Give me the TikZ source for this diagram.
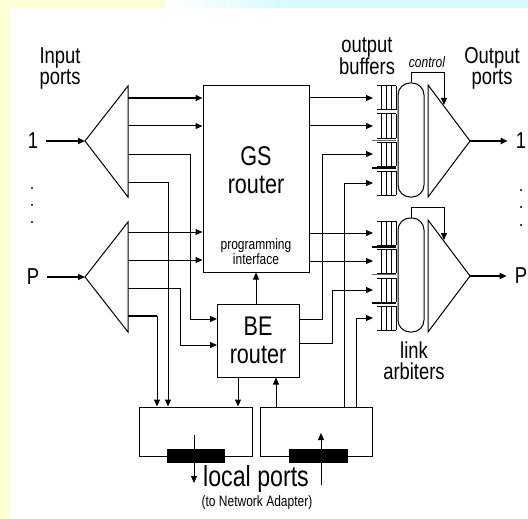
\documentclass[tikz,border=0pt]{standalone}
\usepackage{fontspec}
\setmainfont{Liberation Sans}[FakeStretch=0.8]
\usetikzlibrary{arrows.meta,positioning}
\definecolor{bgyellow}{HTML}{FFFFD6}
\definecolor{bgcyan}{HTML}{D4FAFF}

\begin{document}
\begin{tikzpicture}[x=1pt,y=-1pt,
    box/.style={draw,rectangle,line width=1pt,inner sep=0pt},
    bar/.style={fill=black,rectangle,inner sep=0pt},
    wire/.style={line width=1pt},
    bus/.style={line width=2pt},
    arr/.style={-{Triangle[length=7pt,width=6pt]},line width=1pt},
    lbl/.style={align=center,inner sep=0pt,font=\fontsize{23}{21}\selectfont},
    big/.style={align=center,inner sep=0pt,font=\fontsize{27}{28}\selectfont},
    small/.style={align=center,inner sep=0pt,font=\fontsize{14}{13}\selectfont},
    line join=miter,
  ]
    \useasboundingbox (0,0) rectangle (528,519);
    % background bands
    \fill[bgyellow] (0,0) rectangle (10,519);
    \fill[bgyellow] (0,0) rectangle (165,8);
    \shade[left color=white,right color=bgcyan] (170,0) rectangle (290,8);
    \fill[bgcyan] (290,0) rectangle (528,8);

    % labels
    \node[lbl] (inlbl)  at (60,68)  {Input\\ports};
    \node[lbl] (bufl)   at (367,56) {output\\buffers};
    \node[small,font=\fontsize{15}{14}\selectfont\itshape] (ctl) at (427,62) {control};
    \node[lbl] (outlbl) at (492,68) {Output\\ports};
    \node[lbl] (arblbl) at (414,361) {link\\arbiters};
    \node[lbl] (n1) at (33,141) {1};
    \node[lbl] (nP) at (33,277) {P};
    \node[lbl] (m1) at (521,141) {1};
    \node[lbl] (mP) at (521,276) {P};
    \foreach \y in {188,205,222} \fill (32,\y) circle (1.2);
    \foreach \y in {190,207,225} \fill (521,\y) circle (1.2);

    % routers
    \node[box,big,minimum width=106pt,minimum height=186pt,
          text depth=17pt] (GS) at (256,179) {GS\\router};
    \node[small,font=\fontsize{15}{13}\selectfont] (prog) at (256,252) {programming\\interface};
    \node[box,big,minimum width=82pt,minimum height=73pt] (BE) at (258,340.5) {BE\\router};

    % local ports
    \node[box,minimum width=113pt,minimum height=49pt] (locL) at (195.5,431.5) {};
    \node[box,minimum width=112pt,minimum height=49pt] (locR) at (316,431.5) {};
    \node[bar,minimum width=58pt,minimum height=14pt] (barL) at (196,456) {};
    \node[bar,minimum width=59pt,minimum height=14pt] (barR) at (318.5,456) {};
    \node[big,font=\fontsize{29}{26}\selectfont] (loclbl) at (256,479) {local ports};
    \node[small,font=\fontsize{15}{14}\selectfont] (nalbl) at (257,503) {(to Network Adapter)};
    \draw[arr] (194,435) -- (194,483);
    \draw[arr] (321,485) -- (321,433);

    % input switches
    \coordinate (inA) at (85,141);
    \coordinate (inP) at (85,277);
    \draw[wire] (inA) -- (128,86) -- (128,197) -- cycle;
    \draw[wire] (inP) -- (128,222) -- (128,332) -- cycle;
    \draw[arr,line width=2pt,shorten <=8pt] (n1.east) -- (inA);
    \draw[arr,line width=1.4pt,shorten <=8pt] (nP.east) -- (inP);
    \foreach \y [count=\i] in {98,126,154,182} \coordinate (a\i) at (128,\y);
    \foreach \y [count=\i] in {232,260,288,316} \coordinate (p\i) at (128,\y);

    % output switches
    \coordinate (outA) at (470,141);
    \coordinate (outP) at (470,276);
    \draw[wire] (outA) -- (428,85) -- (428,197) -- cycle;
    \draw[wire] (outP) -- (428,220) -- (428,332) -- cycle;
    \draw[arr,line width=2pt,shorten >=8pt] (outA) -- (m1.west);
    \draw[arr,line width=2pt,shorten >=8pt] (outP) -- (mP.west);

    % link arbiters
    \node[box,rounded corners=12pt,minimum width=26pt,minimum height=114pt] (arbA) at (411,140) {};
    \node[box,rounded corners=12pt,minimum width=26pt,minimum height=114pt] (arbP) at (411,275) {};
    \coordinate (ctlA) at (444,105);
    \coordinate (ctlP) at (444,240);
    \draw[arr] (arbA.north) -- ++(0,-10) -| (ctlA);
    \draw[arr] (arbP.north) -- ++(0,-10) -| (ctlP);

    % output buffers
    \foreach \y in {98,126,154,183,233,261,290,318}{
      \draw[wire] (377,\y-12) -- (396,\y-12) (377,\y+12) -- (396,\y+12);
      \foreach \x in {381,386,391,396} \draw[line width=0.8pt] (\x,\y-12) -- (\x,\y+12);
      \coordinate (q\y) at (373,\y);
    }
    \draw[line width=1.8pt] (372,168) -- (396,168) (372,247) -- (396,247) (372,303) -- (396,303);
    \draw[line width=1pt,black!60] (372,140) -- (396,140) (372,274) -- (396,274);

    % inputs to routers
    \coordinate (be1) at (217,319);
    \coordinate (be2) at (217,345);
    \draw[arr,bus] (a1) -- (a1 -| GS.west);
    \draw[arr] (a2) -- (a2 -| GS.west);
    \draw[arr] (a3) -| (190,319) -- (be1);
    \draw[arr] (a4) -| (locL.north -| 168,0);
    \draw[arr] (p1) -- (p1 -| GS.west);
    \draw[arr] (p2) -- (p2 -| GS.west);
    \draw[arr] (p3) -| (180,345) -- (be2);
    \draw[bus] (p4) -- (157,316);
    \draw[arr] (157,316) -- (locL.north -| 157,0);

    % routers to buffers
    \draw[arr] (GS.east |- q98) -- (q98);
    \draw[arr] (GS.east |- q126) -- (q126);
    \draw[arr] (GS.east |- q233) -- (q233);
    \draw[arr] (GS.east |- q261) -- (q261);
    \draw[arr] (BE.east |- be1) -| (322,154) -- (q154);
    \draw[arr] (BE.east |- 0,343) -| (332,290) -- (q290);
    \draw[arr] (locR.north -| 344,0) |- (q183);
    \draw[arr] (locR.north -| 356,0) |- (q318);

    % local and programming links
    \draw[arr] (BE.south -| 238,0) -- (locL.north -| 238,0);
    \draw[arr] (locR.north -| 276,0) -- (BE.south -| 276,0);
    \draw[arr] (BE.north -| 256,0) -- (GS.south -| 256,0);
  \end{tikzpicture}
\end{document}
